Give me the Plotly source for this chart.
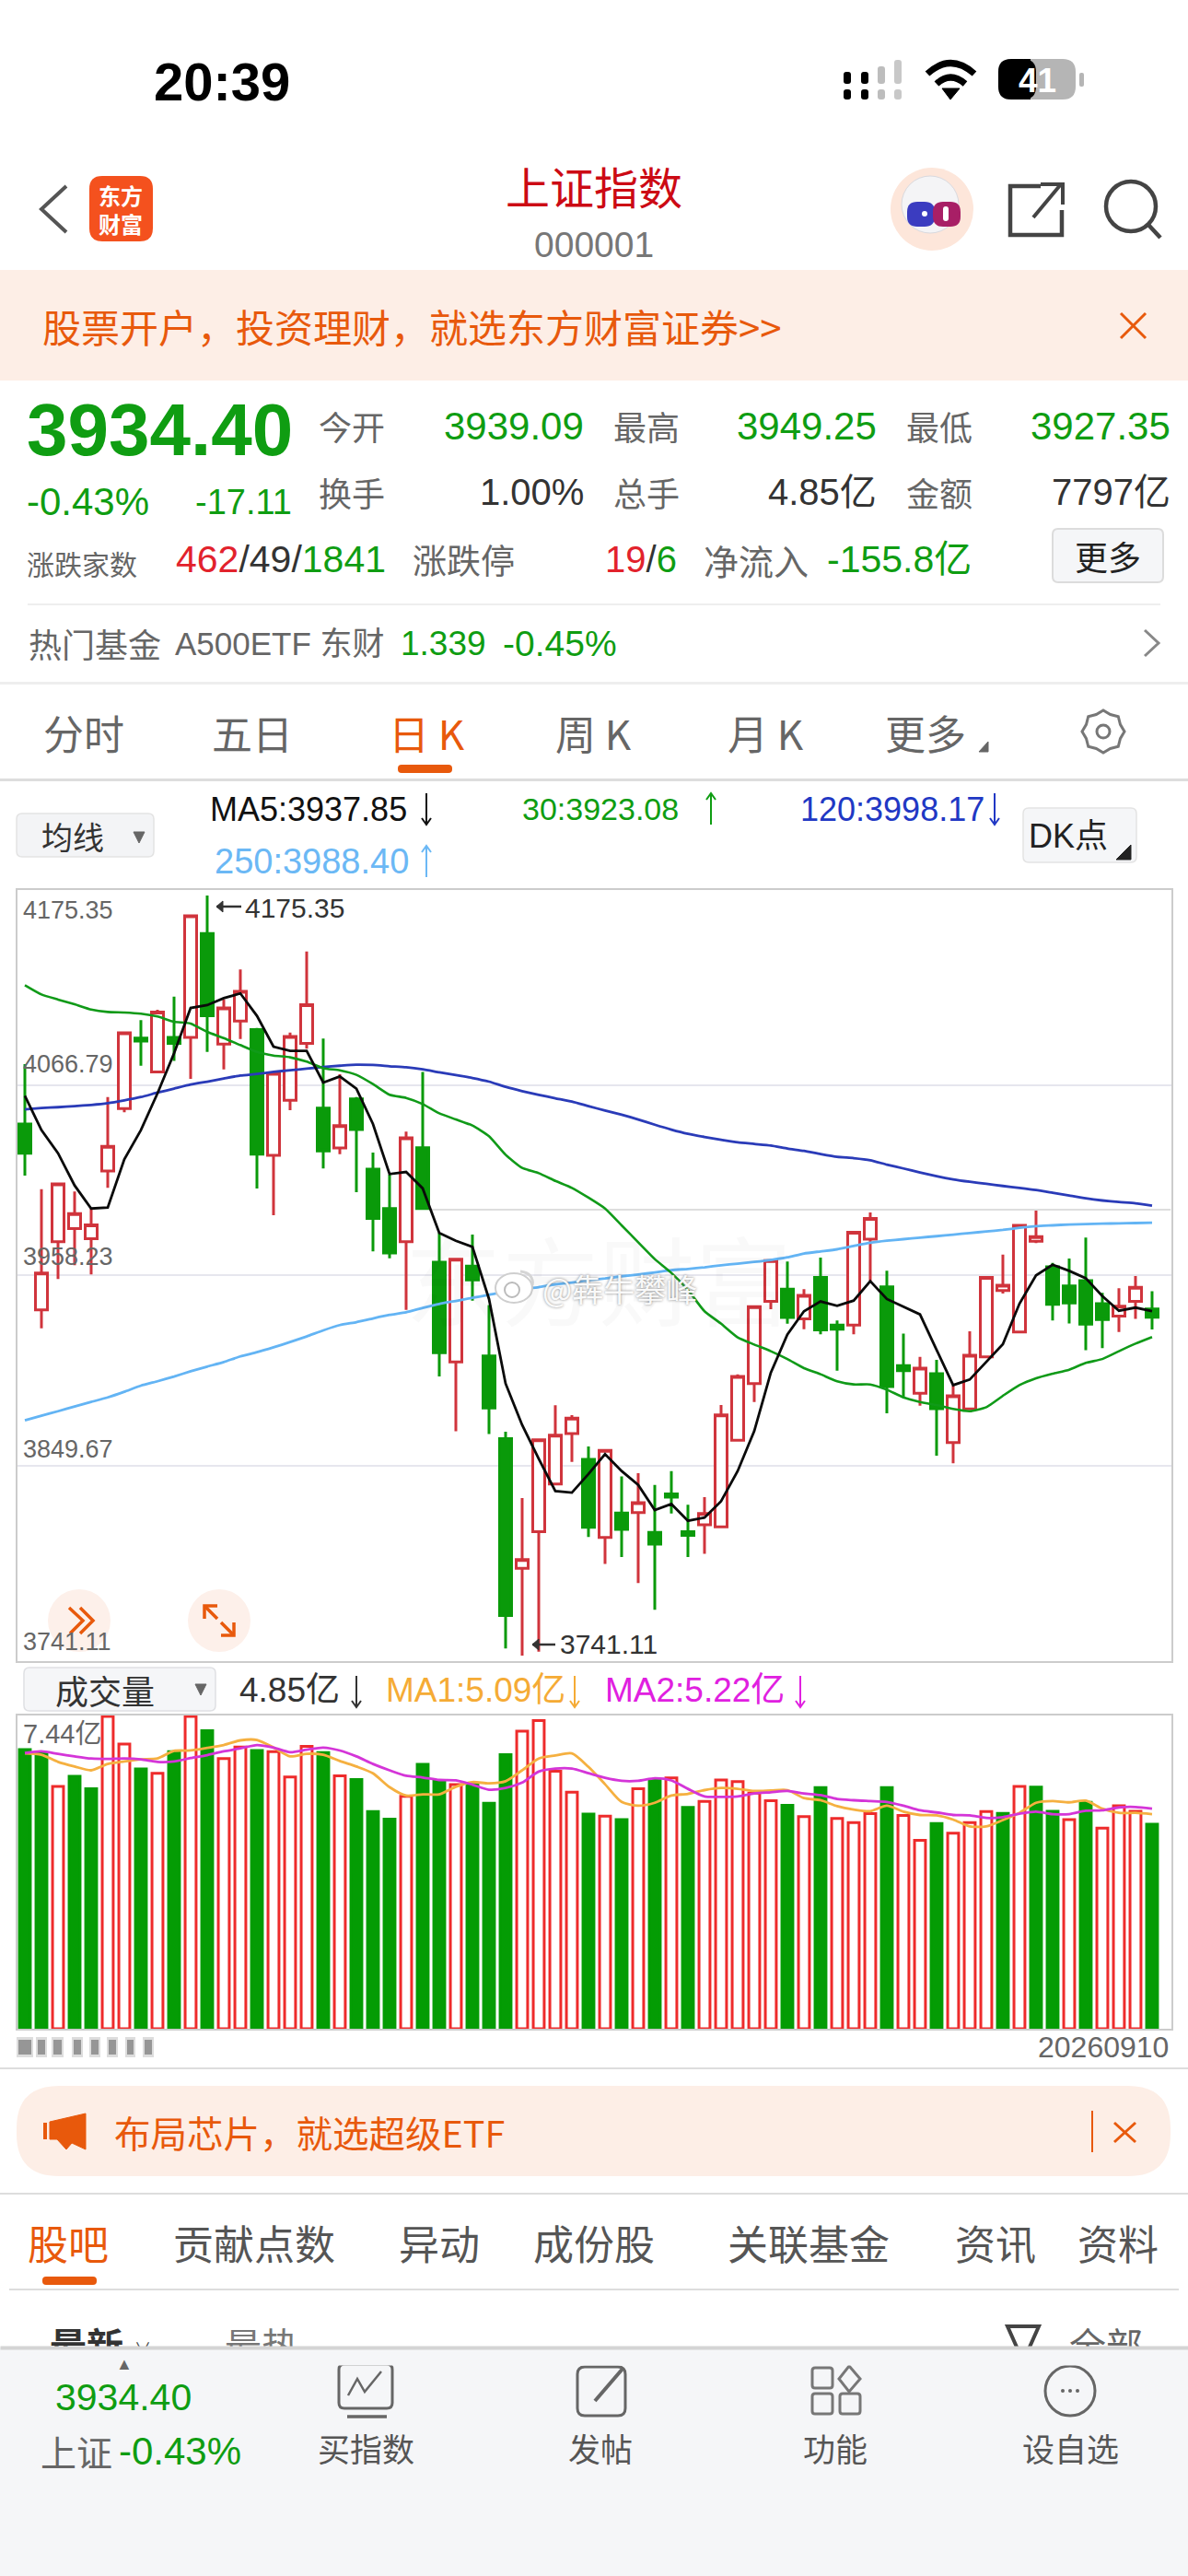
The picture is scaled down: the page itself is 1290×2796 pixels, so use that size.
import math
import plotly.graph_objects as go

W, H = 1290, 2796
FONT = "Liberation Sans, Noto Sans CJK SC"
CJK = "Noto Sans CJK SC, Liberation Sans"

# ---------- data ----------
open_ = [4044.8,3938.6,3977.6,3985.1,3979.3,4017.9,4053.6,4093.9,4074.6,4094.3,4094.3,4153.6,4090.4,4103.6,4098.7,4026.9,4058.3,4090.8,4053.9,4031.1,4059.2,4019.0,3996.5,
         3977.6,4031.3,3965.8,3908.8,3963.6,3912.3,3865.0,3790.9,3811.8,3839.1,3867.9,3853.2,3808.6,3822.5,3822.8,3811.4,3833.4,3811.9,3815.8,3814.6,3864.1,3896.5,3943.5,
         3950.4,3933.4,3957.1,3929.9,3929.9,3979.0,3951.8,3906.7,3890.9,3902.1,3862.8,3882.0,3911.8,3949.7,3926.0,3977.8,3963.2,3952.3,3955.3,3942.1,3935.1,3943.5,3939.09]
close_ = [4028.1,3959.7,4010.6,3993.6,3987.2,4032.0,4096.9,4092.2,4108.8,4090.8,4163.8,4106.7,4111.1,4120.6,4027.6,4073.7,4094.8,4112.9,4029.4,4043.9,4041.6,3990.8,3971.1,
          4036.9,3996.5,3914.1,3967.6,3955.7,3882.5,3764.0,3796.0,3864.4,3867.0,3876.7,3814.4,3858.3,3813.2,3828.4,3804.8,3831.6,3809.7,3822.3,3878.6,3900.5,3940.4,3966.7,
          3934.3,3946.9,3927.2,3927.6,3983.0,3990.8,3894.8,3903.9,3905.3,3882.1,3889.5,3912.7,3957.1,3952.7,3986.9,3980.4,3941.8,3942.5,3930.4,3933.0,3940.7,3951.5,3934.40]
high_ = [4079.0,4007.6,4010.6,4006.2,3996.5,4060.2,4097.0,4104.1,4110.1,4117.6,4164.5,4175.35,4115.9,4133.1,4099.7,4074.6,4097.1,4143.4,4093.6,4073.2,4060.2,4028.5,4015.8,
         4040.4,4074.6,3982.5,3968.0,3981.6,3941.3,3869.0,3831.1,3864.4,3884.1,3878.5,3860.5,3858.5,3843.4,3845.3,3838.6,3846.5,3827.2,3831.6,3884.2,3901.8,3941.0,3967.5,
         3966.2,3950.4,3968.5,3932.5,3983.0,3994.3,3960.9,3925.0,3911.8,3910.0,3895.6,3926.4,3958.0,3970.2,3987.0,3995.3,3965.5,3967.9,3979.9,3948.3,3950.9,3957.9,3949.25]
low_ = [4015.3,3928.1,3956.2,3964.1,3958.8,4008.3,4051.5,4078.1,4074.6,4080.8,4070.6,4086.0,4076.0,4093.4,4008.0,3992.7,4052.7,4087.8,4019.4,4027.6,4005.8,3972.0,3968.1,
        3938.6,3996.5,3900.5,3869.3,3943.9,3867.6,3745.1,3741.11,3743.3,3838.6,3851.8,3808.8,3793.4,3797.4,3782.5,3767.2,3822.3,3797.4,3799.2,3814.6,3864.1,3886.0,3939.0,
        3930.7,3927.6,3924.6,3903.9,3924.6,3955.3,3879.5,3888.6,3883.9,3855.3,3850.9,3882.0,3911.8,3947.9,3926.0,3976.7,3932.5,3930.8,3915.5,3916.7,3926.0,3933.4,3927.35]
ma5 = [4060.9,4041.3,4028.1,4009.7,3996.5,3997.1,4024.6,4041.3,4062.3,4085.2,4111.1,4112.7,4116.7,4119.4,4106.6,4089.0,4086.6,4086.6,4068.5,4072.0,4065.0,4044.8,4016.2,
       4017.4,4008.0,3982.5,3978.1,3974.6,3944.8,3896.5,3872.8,3853.5,3835.1,3834.2,3844.8,3856.2,3846.5,3838.6,3824.2,3827.7,3818.1,3819.9,3829.3,3846.5,3869.3,3902.7,
       3924.6,3937.8,3943.4,3940.9,3943.9,3955.0,3944.8,3940.4,3936.0,3915.8,3895.6,3898.8,3908.8,3919.0,3942.1,3958.3,3964.4,3960.9,3956.7,3946.5,3938.1,3939.9,3937.85]
ma30 = [4124.1,4118.8,4115.9,4113.2,4110.2,4108.8,4108.5,4107.8,4106.2,4103.2,4102.2,4097.4,4093.9,4089.9,4086.0,4083.9,4082.9,4080.4,4076.7,4075.5,4072.9,4067.6,4061.5,
        4059.7,4056.2,4050.9,4047.4,4043.9,4037.8,4027.2,4019.7,4016.7,4012.3,4008.3,4002.7,3996.5,3986.9,3977.2,3967.6,3959.7,3950.0,3937.8,3930.7,3922.9,3918.8,3915.0,
        3910.5,3905.3,3901.8,3897.8,3896.0,3896.0,3893.0,3888.6,3886.0,3884.2,3882.0,3880.7,3883.0,3889.5,3895.6,3899.5,3902.1,3904.4,3908.3,3910.5,3915.0,3919.3,3923.08]
ma120 = [4053.2,4053.9,4054.4,4055.0,4055.7,4056.7,4058.3,4060.2,4062.7,4065.0,4067.3,4069.0,4070.8,4072.5,4073.4,4074.6,4075.5,4076.4,4077.4,4078.1,4078.7,4078.5,4077.8,
         4077.2,4076.0,4074.3,4072.7,4071.1,4069.0,4066.0,4063.6,4061.5,4059.5,4057.6,4055.0,4052.5,4050.1,4047.4,4044.4,4041.6,4039.2,4037.4,4035.8,4034.3,4033.4,4032.5,
         4030.8,4029.4,4027.6,4026.0,4025.3,4024.1,4021.6,4019.4,4017.1,4015.0,4013.2,4011.8,4010.6,4009.4,4008.3,4007.1,4005.5,4003.9,4002.3,4001.1,4000.2,3999.5,3998.17]
ma250 = [3875.5,3878.1,3880.7,3883.4,3886.0,3888.6,3891.8,3895.3,3897.8,3900.5,3903.5,3906.2,3908.8,3912.0,3914.4,3917.2,3920.2,3923.4,3926.9,3929.9,3931.6,3933.7,3935.7,
         3937.2,3939.7,3942.0,3943.7,3945.5,3947.2,3949.0,3950.4,3951.6,3953.2,3954.2,3955.5,3956.5,3957.8,3958.8,3960.0,3961.3,3962.0,3962.9,3964.1,3965.0,3966.0,3967.1,
         3968.6,3970.8,3972.0,3973.2,3975.1,3976.9,3978.1,3979.0,3979.9,3980.7,3981.6,3982.5,3983.4,3984.3,3985.5,3986.4,3986.9,3987.4,3987.6,3987.9,3988.0,3988.2,3988.40]
volume = [6.62,6.54,5.75,5.99,5.69,7.41,6.75,6.16,6.06,6.57,7.41,7.07,6.41,6.68,6.60,6.57,5.97,6.70,6.55,6.00,5.91,5.15,4.97,5.51,6.27,5.88,5.79,5.80,5.35,6.50,7.06,7.31,6.11,5.61,5.09,
          5.04,4.96,5.69,5.90,5.95,5.25,5.39,5.90,5.86,5.59,5.41,5.30,5.03,5.72,4.99,4.89,5.10,5.72,5.06,4.47,4.87,4.64,4.89,5.15,5.11,5.75,5.73,5.16,4.96,5.37,4.76,5.29,5.16,4.85]
vol_up = [0,0,1,0,0,1,1,0,1,0,1,0,1,1,0,1,1,1,0,1,0,0,0,1,0,0,1,0,0,0,1,1,1,1,0,
          1,0,1,0,1,0,1,1,1,1,1,0,1,0,1,1,1,0,1,1,0,1,1,1,0,1,0,0,1,0,1,1,1,0]
vol_ma1 = [6.53,6.50,6.33,6.22,6.13,6.28,6.34,6.39,6.41,6.59,6.60,6.66,6.73,6.84,6.85,6.67,6.46,6.52,6.50,6.35,6.22,6.06,5.73,5.53,5.56,5.56,5.74,5.85,5.82,5.87,6.13,6.41,6.48,6.53,6.21,
           5.80,5.38,5.29,5.36,5.53,5.57,5.66,5.71,5.69,5.64,5.65,5.66,5.47,5.42,5.28,5.20,5.16,5.29,5.15,5.07,5.06,4.96,4.80,4.80,4.95,5.12,5.36,5.40,5.37,5.41,5.22,5.12,5.12,5.09]
vol_ma2 = [6.54,6.58,6.52,6.46,6.41,6.40,6.41,6.39,6.33,6.34,6.42,6.49,6.58,6.65,6.73,6.67,6.56,6.62,6.67,6.60,6.46,6.28,6.13,6.00,5.96,5.90,5.89,5.79,5.67,5.71,5.84,6.10,6.17,6.17,6.06,
           5.95,5.88,5.88,5.94,5.89,5.69,5.51,5.50,5.51,5.58,5.61,5.64,5.58,5.54,5.45,5.42,5.40,5.38,5.29,5.18,5.13,5.07,5.06,5.00,5.02,5.10,5.15,5.09,5.09,5.17,5.18,5.25,5.26,5.22]
price_ticks = [4175.35, 4066.79, 3958.23, 3849.67, 3741.11]
dk_level = 3995.9
dk_start = 24.4
day = list(range(len(close_)))

RED, GREEN = "#d0343c", "#0a9a0a"
VRED, VGREEN = "#ee2b2b", "#049c04"
ORANGE = "#e8590c"
GRAY = "#666666"
STATG = "#0f9d12"

# ---------- chrome helpers ----------
shapes, annos = [], []
fx = lambda x: x / W
fy = lambda y: 1 - y / H

def T(x, y, text, size, color="#666666", anchor="center", weight=400, family=FONT, **kw):
    annos.append(dict(xref="paper", yref="paper", x=fx(x), y=fy(y), text=text, showarrow=False,
                      xanchor=anchor, yanchor="middle", borderpad=0,
                      font=dict(size=size, color=color, family=family, weight=weight), **kw))

def R(x0, y0, x1, y1, fill=None, line=None, lw=0, layer="above"):
    shapes.append(dict(type="rect", xref="paper", yref="paper", x0=fx(x0), x1=fx(x1), y0=fy(y0), y1=fy(y1),
                       fillcolor=fill or "rgba(0,0,0,0)", line=dict(color=line or "rgba(0,0,0,0)", width=lw), layer=layer))

def RR(x0, y0, x1, y1, r, fill=None, line=None, lw=0):
    a = lambda x, y: f"{fx(x):.6f},{fy(y):.6f}"
    d = (f"M{a(x0+r,y0)} L{a(x1-r,y0)} Q{a(x1,y0)} {a(x1,y0+r)} L{a(x1,y1-r)} Q{a(x1,y1)} {a(x1-r,y1)} "
         f"L{a(x0+r,y1)} Q{a(x0,y1)} {a(x0,y1-r)} L{a(x0,y0+r)} Q{a(x0,y0)} {a(x0+r,y0)} Z")
    shapes.append(dict(type="path", xref="paper", yref="paper", path=d, fillcolor=fill or "rgba(0,0,0,0)",
                       line=dict(color=line or "rgba(0,0,0,0)", width=lw)))

def P(points, color="#444", lw=3, fill=None, close=False):
    d = "M" + " L".join(f"{fx(x):.6f},{fy(y):.6f}" for x, y in points) + (" Z" if close else "")
    shapes.append(dict(type="path", xref="paper", yref="paper", path=d, fillcolor=fill or "rgba(0,0,0,0)",
                       line=dict(color=color, width=lw)))

def Q(p0, c, p1, color="#000", lw=6):
    a = lambda p: f"{fx(p[0]):.6f},{fy(p[1]):.6f}"
    shapes.append(dict(type="path", xref="paper", yref="paper", path=f"M{a(p0)} Q{a(c)} {a(p1)}",
                       line=dict(color=color, width=lw)))

def C(cx, cy, r, fill=None, line=None, lw=0, ry=None):
    ry = ry or r
    shapes.append(dict(type="circle", xref="paper", yref="paper", x0=fx(cx-r), x1=fx(cx+r), y0=fy(cy-ry), y1=fy(cy+ry),
                       fillcolor=fill or "rgba(0,0,0,0)", line=dict(color=line or "rgba(0,0,0,0)", width=lw)))

def ARROW(x, y, up, color):
    P([(x, y-17), (x, y+17)], color, 2)
    if up:
        P([(x-5, y-10), (x, y-17), (x+5, y-10)], color, 2)
    else:
        P([(x-5, y+10), (x, y+17), (x+5, y+10)], color, 2)

def LEFTARROW(x0, x1, y, color="#333"):
    P([(x0, y), (x1, y)], color, 2.5)
    P([(x0+7, y-6), (x0, y), (x0+7, y+6)], color, 1, color, True)

# status bar
T(241, 88, "20:39", 58, "#000", weight=700)
for x, top, col in [(920, 78, "#000"), (939, 78, "#000"), (957, 72, "#bdbdbd"), (975, 65, "#c8c8c8")]:
    RR(x-4, top, x+4, 91, 3, fill=col)
    RR(x-4, 97, x+4, 108, 3, fill=col)
Q((1007, 80), (1032, 57), (1058, 80), "#000", 7)
Q((1017, 91), (1032, 77), (1048, 91), "#000", 7)
P([(1023, 96), (1042, 96), (1032, 108)], "#000", 1, "#000", True)
RR(1084, 64, 1168, 108, 14, fill="#b5b5b5")
RR(1084, 64, 1125, 108, 14, fill="#000")
R(1112, 64, 1119, 108, fill="#000")
RR(1172, 79, 1177, 94, 2, fill="#b5b5b5")
T(1126, 87, "41", 37, "#fff", weight=700)

# header
P([(72, 202), (45, 227), (72, 252)], "#555", 4)
RR(97, 191, 166, 262, 14, fill="#f4511e")
T(131, 227, "东方<br>财富", 24, "#fff", weight=700, family=CJK)
T(645, 201, "上证指数", 48, "#cc0a14", family=CJK)
T(645, 265, "000001", 39, "#777")
C(1012, 227, 45, fill="#fde6da")
C(1010, 222, 31, fill="#f4f4f6", line="#d9d9de", lw=1)
RR(985, 219, 1015, 246, 11, fill="#3b3cc0")
RR(1013, 219, 1043, 246, 11, fill="#a81f66")
C(1004, 232, 3, fill="#fff")
RR(1024, 224, 1030, 240, 3, fill="#fff")
P([(1130, 202), (1097, 202), (1097, 255), (1153, 255), (1153, 228)], "#444", 4.5)
P([(1122, 236), (1152, 200)], "#444", 4)
P([(1130, 200), (1154, 200), (1154, 222)], "#444", 4)
C(1228, 224, 27, line="#444", lw=4.5)
P([(1247, 244), (1260, 258)], "#444", 4.5)

# top promo band
R(0, 293, W, 413, fill="#fdeee6")
T(45, 353, "股票开户，投资理财，就选东方财富证券&gt;&gt;", 42, ORANGE, anchor="left", family=CJK)
P([(1217, 340), (1244, 367)], ORANGE, 3)
P([(1244, 340), (1217, 367)], ORANGE, 3)

# quote block
T(28, 467, "3934.40", 80, STATG, anchor="left", weight=700)
T(28, 545, "-0.43%", 42, STATG, anchor="left")
T(318, 545, "-17.11", 38, STATG, anchor="right")
for x, lab in [(345, "今开"), (665, "最高"), (983, "最低")]:
    T(x, 462, lab, 36, GRAY, anchor="left", family=CJK)
for x, val in [(635, "3939.09"), (953, "3949.25"), (1272, "3927.35")]:
    T(x, 462, val, 42, STATG, anchor="right")
for x, lab in [(345, "换手"), (665, "总手"), (983, "金额")]:
    T(x, 534, lab, 36, GRAY, anchor="left", family=CJK)
for x, val in [(635, "1.00%"), (953, "4.85亿"), (1272, "7797亿")]:
    T(x, 534, val, 40, "#333", anchor="right")
T(28, 611, "涨跌家数", 30, GRAY, anchor="left", family=CJK)
T(190, 607, f'<span style="color:#e2222c">462</span>/49/<span style="color:{STATG}">1841</span>', 41, "#333", anchor="left")
T(447, 607, "涨跌停", 37, GRAY, anchor="left", family=CJK)
T(736, 607, f'<span style="color:#e2222c">19</span>/<span style="color:{STATG}">6</span>', 40, "#333", anchor="right")
T(763, 607, "净流入", 38, GRAY, anchor="left", family=CJK)
T(897, 607, "-155.8亿", 41, STATG, anchor="left")
RR(1143, 574, 1263, 632, 6, fill="#f5f6f8", line="#dcdcdc", lw=2)
T(1203, 603, "更多", 36, "#222", family=CJK)
R(30, 655, 1260, 657, fill="#eeeeee")
T(30, 698, "热门基金", 36, GRAY, anchor="left", family=CJK)
T(189, 698, "A500ETF 东财", 35, GRAY, anchor="left")
T(434, 698, "1.339", 37, STATG, anchor="left")
T(545, 698, "-0.45%", 39, STATG, anchor="left")
P([(1243, 684), (1258, 698), (1243, 712)], "#888", 3)
R(0, 740, W, 743, fill="#eeeeee")

# period tabs
for x, lab in [(91, "分时"), (274, "五日"), (644, "周 K"), (831, "月 K"), (1005, "更多")]:
    T(x, 795, lab, 44, GRAY, family=CJK)
T(463, 795, "日 K", 44, ORANGE, family=CJK)
RR(432, 830, 491, 839, 4, fill=ORANGE)
P([(1073, 805), (1073, 816), (1063, 816)], "#666", 1, "#666", True)
gear = [(1198 + (23 if k % 2 == 0 else 20) * math.cos(k * math.pi / 8), 794 + (23 if k % 2 == 0 else 20) * math.sin(k * math.pi / 8)) for k in range(16)]
P(gear, "#777", 3, None, True)
C(1198, 794, 7, line="#777", lw=3)
R(0, 845, W, 848, fill="#dddddd")

# indicator row
RR(18, 883, 167, 930, 6, fill="#f3f4f6", line="#e3e3e3", lw=1.5)
T(79, 907, "均线", 34, "#333", family=CJK)
P([(145, 903), (157, 903), (151, 915)], "#666", 1, "#666", True)
T(227, 878, "MA5:3937.85", 36, "#111", anchor="left")
ARROW(463, 878, False, "#111")
T(566, 878, "30:3923.08", 34, STATG, anchor="left")
ARROW(772, 878, True, STATG)
T(868, 878, "120:3998.17", 36, "#2138c4", anchor="left")
ARROW(1080, 878, False, "#2138c4")
T(232, 935, "250:3988.40", 38, "#6bb8f5", anchor="left")
ARROW(463, 935, True, "#6bb8f5")
RR(1111, 877, 1234, 936, 6, fill="#f5f6f8", line="#e3e3e3", lw=1.5)
T(1160, 908, "DK点", 36, "#222", family=FONT)
P([(1228, 917), (1228, 933), (1212, 933)], "#222", 1, "#222", True)

# chart overlay buttons
for cx in (86, 238):
    C(cx, 1759, 34, fill="#fdf0ea")
P([(75, 1745), (90, 1759), (76, 1773)], ORANGE, 3.5)
P([(87, 1745), (101, 1759), (87, 1773)], ORANGE, 3.5)
P([(236, 1743), (222, 1743), (222, 1757)], ORANGE, 3.5)
P([(222, 1743), (236, 1757)], ORANGE, 3.5)
P([(254, 1761), (254, 1775), (240, 1775)], ORANGE, 3.5)
P([(254, 1775), (240, 1761)], ORANGE, 3.5)
LEFTARROW(235, 262, 984)
LEFTARROW(578, 603, 1785)

# volume header
RR(26, 1810, 234, 1857, 6, fill="#f5f6f8", line="#dfe0e3", lw=1.5)
T(114, 1834, "成交量", 36, "#333", family=CJK)
P([(212, 1828), (224, 1828), (218, 1840)], "#666", 1, "#666", True)
T(259, 1834, "4.85亿", 37, "#333", anchor="left")
ARROW(387, 1836, False, "#333")
T(418, 1834, "MA1:5.09亿", 37, "#f5ab35", anchor="left")
ARROW(624, 1836, False, "#f5ab35")
T(656, 1834, "MA2:5.22亿", 37, "#e020e0", anchor="left")
ARROW(869, 1836, False, "#e020e0")
T(24, 1882, "7.44亿", 29, GRAY, anchor="left")

# blurred first date and last date
for x0, x1 in [(20, 34), (41, 49), (58, 67), (80, 88), (99, 107), (118, 126), (138, 145), (157, 165)]:
    R(x0 - 2, 2211, x1 + 2, 2233, fill="rgba(120,120,120,0.25)")
    R(x0, 2214, x1, 2230, fill="rgba(80,80,80,0.5)")
T(1270, 2222, "20260910", 32, GRAY, anchor="right")
R(0, 2244, W, 2246, fill="#dddddd")

# second promo
RR(18, 2264, 1271, 2362, 46, fill="#fdeee6")
P([(54, 2303), (93, 2294), (93, 2333), (78, 2326), (72, 2333), (62, 2322), (54, 2322)], ORANGE, 1, ORANGE, True)
R(47, 2304, 51, 2322, fill=ORANGE)
T(123, 2313, "布局芯片，就选超级ETF", 39.5, ORANGE, anchor="left", family=CJK)
R(1185, 2291, 1187, 2336, fill=ORANGE)
P([(1210, 2304), (1233, 2325)], ORANGE, 3)
P([(1233, 2304), (1210, 2325)], ORANGE, 3)
R(0, 2380, W, 2382, fill="#dddddd")

# content tabs
T(74, 2434, "股吧", 44, ORANGE, family=CJK)
for x, lab in [(276, "贡献点数"), (477, "异动"), (645, "成份股"), (878, "关联基金"), (1081, "资讯"), (1214, "资料")]:
    T(x, 2434, lab, 44, "#555", family=CJK)
RR(46, 2471, 105, 2480, 4, fill=ORANGE)
R(10, 2484, 1280, 2486, fill="#dddddd")

# row clipped by the bottom panel
T(53, 2544, "最新", 40, "#333", anchor="left", weight=700, family=CJK)
T(145, 2550, "∨", 18, "#444", anchor="left")
T(243, 2544, "最热", 40, "#777", anchor="left", family=CJK)
T(1160, 2544, "全部", 40, "#666", anchor="left", family=CJK)
P([(1094, 2525), (1128, 2525), (1116, 2552), (1106, 2552)], "#444", 4, None, True)

# bottom panel
R(0, 2548, W, 2796, fill="#f5f6f8")
annos.append(dict(xref="paper", yref="paper", x=0, y=fy(2547), xanchor="left", yanchor="top", text="\u00a0",
                  showarrow=False, width=W, height=19, bgcolor="#f5f6f8", borderpad=0, font=dict(size=4)))
annos.append(dict(xref="paper", yref="paper", x=0, y=fy(2546), xanchor="left", yanchor="top", text="\u00a0",
                  showarrow=False, width=W, height=3, bgcolor="#d4d4d4", borderpad=0, font=dict(size=1)))
T(135, 2566, "▲", 18, "#666")
T(134, 2602, "3934.40", 41, STATG)
T(43, 2660, "上证", 39, GRAY, anchor="left", family=CJK)
T(128, 2660, "-0.43%", 42, STATG, anchor="left")
RR(368, 2566, 426, 2614, 6, line="#666", lw=3)
P([(377, 2623), (420, 2623)], "#666", 3.5)
P([(378, 2600), (388, 2582), (396, 2596), (414, 2574)], "#666", 2.5)
RR(627, 2569, 679, 2622, 8, line="#666", lw=3)
P([(677, 2570), (646, 2606)], "#666", 4)
RR(882, 2570, 904, 2592, 3, line="#777", lw=3)
P([(922, 2568), (934, 2582), (922, 2596), (911, 2582)], "#777", 3, None, True)
RR(882, 2598, 904, 2620, 3, line="#777", lw=3)
RR(912, 2598, 934, 2620, 3, line="#777", lw=3)
C(1162, 2595, 27, line="#666", lw=3)
for dx in (-8, 0, 8):
    C(1162 + dx, 2595, 2, fill="#666")
for x, lab in [(397, "买指数"), (652, "发帖"), (907, "功能"), (1162, "设自选")]:
    T(x, 2656, lab, 35, "#555", family=CJK)

# ---------- figure ----------
fig = go.Figure()
fig.add_trace(go.Candlestick(
    x=day, open=open_, high=high_, low=low_, close=close_, xaxis="x", yaxis="y", whiskerwidth=0,
    increasing=dict(line=dict(color=RED, width=3), fillcolor="#ffffff"),
    decreasing=dict(line=dict(color=GREEN, width=3), fillcolor=GREEN), showlegend=False))
fig.add_trace(go.Scatter(x=day, y=ma120, mode="lines", line=dict(color="#2a3bb8", width=2.8, shape="spline", smoothing=0.5), xaxis="x", yaxis="y"))
fig.add_trace(go.Scatter(x=day, y=ma250, mode="lines", line=dict(color="#63b4f4", width=2.8, shape="spline", smoothing=0.5), xaxis="x", yaxis="y"))
fig.add_trace(go.Scatter(x=day, y=ma30, mode="lines", line=dict(color="#109a18", width=2.6, shape="spline", smoothing=0.5), xaxis="x", yaxis="y"))
fig.add_trace(go.Scatter(x=day, y=ma5, mode="lines", line=dict(color="#0a0a0a", width=2.8), xaxis="x", yaxis="y"))
fig.add_trace(go.Bar(x=day, y=volume, width=0.66, xaxis="x2", yaxis="y2",
                     marker=dict(color=["#ffffff" if u else VGREEN for u in vol_up],
                                 line=dict(color=[VRED if u else VGREEN for u in vol_up], width=3))))
fig.add_trace(go.Scatter(x=day, y=vol_ma1, mode="lines", line=dict(color="#f5b040", width=2.8, shape="spline", smoothing=0.7), xaxis="x2", yaxis="y2"))
fig.add_trace(go.Scatter(x=day, y=vol_ma2, mode="lines", line=dict(color="#d435d8", width=2.8, shape="spline", smoothing=0.7), xaxis="x2", yaxis="y2"))

shapes.insert(0, dict(type="line", xref="x", yref="y", x0=dk_start, x1=69.14, y0=dk_level, y1=dk_level,
                      line=dict(color="#dedede", width=2), layer="below"))

# price labels inside the plot, extreme markers, watermarks
for v, shift in zip(price_ticks, [-16, 23, 20, 18, 15]):
    annos.append(dict(xref="paper", yref="y", x=fx(24), y=v, yshift=shift, text=f"{v:.2f}", showarrow=False, xanchor="left",
                      yanchor="middle", borderpad=0, font=dict(size=27, color=GRAY, family=FONT)))
annos.append(dict(xref="x", yref="y", x=11, y=max(high_), xshift=40, yshift=-14, text=f"{max(high_):.2f}", showarrow=False,
                  xanchor="left", yanchor="middle", borderpad=0, font=dict(size=30, color="#333", family=FONT, weight=500)))
annos.append(dict(xref="x", yref="y", x=30, y=min(low_), xshift=40, yshift=12, text=f"{min(low_):.2f}", showarrow=False,
                  xanchor="left", yanchor="middle", borderpad=0, font=dict(size=30, color="#333", family=FONT, weight=500)))
T(650, 1385, "东方财富", 105, "rgba(0,0,0,0.025)", family=CJK)
C(558, 1398, 20, fill="#ffffff", line="#cfcfcf", lw=2, ry=16)
C(556, 1400, 8, fill="#ffffff", line="#bbbbbb", lw=2)
Q((565, 1380), (580, 1382), (578, 1395), "#d5d5d5", 3)
T(588, 1398, "@犇牛攀峰", 34, "rgba(255,255,255,0.95)", anchor="left", family=CJK)
annos[-1]["font"]["shadow"] = "0 0 3px #777"

frame = "#cccccc"
xkw = dict(range=[-0.472, 69.14], domain=[fx(18.5), fx(1271.5)], showgrid=False, zeroline=False, showticklabels=False,
           ticks="", showline=True, linecolor=frame, linewidth=2, mirror=True, rangeslider=dict(visible=False))
fig.update_layout(
    width=W, height=H, margin=dict(l=0, r=0, t=0, b=0, autoexpand=False), paper_bgcolor="#ffffff", plot_bgcolor="#ffffff",
    showlegend=False, boxgap=0.15, boxgroupgap=0.15, hovermode=False, font=dict(family=FONT),
    xaxis=dict(anchor="y", **xkw), xaxis2=dict(anchor="y2", **xkw),
    yaxis=dict(domain=[fy(1803), fy(966)], range=[3737.9, 4178.5], tickvals=price_ticks[1:-1], showticklabels=False, ticks="",
               gridcolor="#e6e6ee", gridwidth=2, zeroline=False, showline=True, linecolor=frame, linewidth=2, mirror=True, anchor="x"),
    yaxis2=dict(domain=[fy(2202), fy(1862)], range=[0, 7.43], showticklabels=False, ticks="", showgrid=False,
                zeroline=False, showline=True, linecolor=frame, linewidth=2, mirror=True, anchor="x2"),
    shapes=shapes, annotations=annos)

fig.write_html("out.html", config=dict(displayModeBar=False, staticPlot=True),
               post_script="document.body.style.margin='0';document.body.style.padding='0';")
